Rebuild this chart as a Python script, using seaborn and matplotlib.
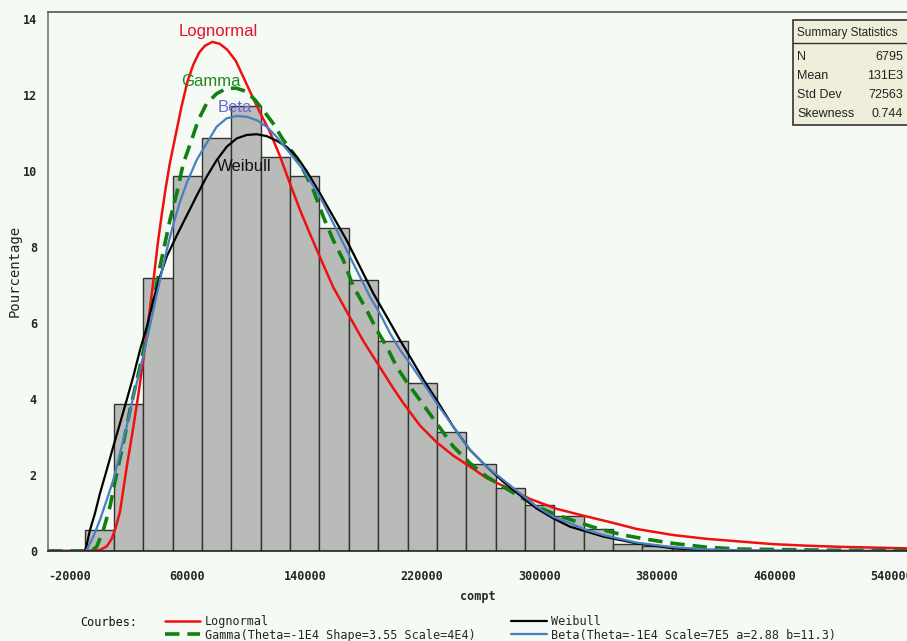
import matplotlib
matplotlib.use("Agg")
import matplotlib.pyplot as plt
from matplotlib.patches import Rectangle
from matplotlib.lines import Line2D
import seaborn as sns

# ---------------- data ----------------
bin_centers = [0, 20000, 40000, 60000, 80000, 100000, 120000, 140000, 160000, 180000,
               200000, 220000, 240000, 260000, 280000, 300000, 320000, 340000, 360000,
               380000, 400000, 420000, 440000, 460000, 480000, 500000, 520000]
bin_percent = [0.55, 3.86, 7.18, 9.87, 10.87, 11.72, 10.38, 9.87, 8.50, 7.13,
               5.53, 4.42, 3.12, 2.28, 1.67, 1.22, 0.93, 0.57, 0.18,
               0.12, 0.08, 0.04, 0.03, 0.02, 0.01, 0.01, 0.01]

logn_x = [-35000, -10000, 0, 5000, 8400, 11000, 14000, 18600, 23100, 26500, 30000, 33400,
          36800, 40000, 42500, 45000, 48000, 52000, 56000, 60000, 64000, 68000, 72000,
          77000, 82000, 87000, 93000, 99000, 105000, 110000, 116000, 123000, 130000,
          137000, 143500, 150400, 159400, 170800, 180000, 191000, 200000, 207000, 218500,
          229900, 241200, 252600, 263900, 279800, 293500, 311600, 329800, 348000, 366200,
          391100, 413900, 436600, 459300, 482000, 504700, 527400, 550400]
logn_y = [0, 0, 0.02, 0.12, 0.32, 0.6, 1.02, 2.2, 3.25, 4.1, 5.05, 6.05,
          7.1, 8.15, 8.85, 9.5, 10.2, 10.95, 11.7, 12.35, 12.8, 13.12, 13.3,
          13.4, 13.35, 13.2, 12.9, 12.4, 11.9, 11.5, 11.05, 10.4, 9.66,
          8.95, 8.35, 7.73, 6.94, 6.15, 5.52, 4.85, 4.3, 3.9, 3.30,
          2.86, 2.51, 2.22, 1.92, 1.63, 1.37, 1.11, 0.93, 0.76, 0.58,
          0.42, 0.32, 0.25, 0.18, 0.14, 0.11, 0.09, 0.07]

gamma_x = [-35000, -10000, -5000, -1800, 2700, 7260, 9500, 11800, 16300, 20900, 27700,
           34500, 41300, 48100, 52700, 57200, 62900, 67400, 73100, 80000, 86800, 93600,
           100400, 106100, 111700, 118500, 125300, 132200, 139000, 145800, 152600,
           159400, 166200, 173100, 182200, 189000, 195800, 202600, 209400, 218500,
           229900, 241200, 252600, 263900, 275300, 286600, 298000, 311600, 325300,
           338900, 357000, 372900, 391100, 413900, 436600, 459300, 500000, 550400]
gamma_y = [0, 0, 0.02, 0.11, 0.55, 1.17, 1.61, 2.04, 2.83, 3.71, 4.85,
           6.08, 7.48, 8.71, 9.41, 10.2, 10.82, 11.34, 11.78, 12.04, 12.18, 12.18,
           12.09, 11.87, 11.6, 11.25, 10.82, 10.47, 10.03, 9.5, 8.8,
           8.18, 7.66, 6.96, 6.34, 5.82, 5.38, 4.85, 4.45, 3.97,
           3.36, 2.75, 2.31, 1.96, 1.69, 1.43, 1.17, 0.95, 0.77,
           0.6, 0.42, 0.31, 0.2, 0.1, 0.05, 0.04, 0.02, 0.01]

beta_x = [-35000, -10000, -8600, -4100, 440, 5000, 9500, 14070, 18600, 23100, 27700,
          32300, 36800, 41300, 45900, 50400, 55000, 59500, 66300, 73100, 80000, 86800,
          93600, 100400, 107200, 114000, 120800, 129900, 139000, 150400, 157200,
          164000, 170800, 177600, 184400, 191200, 198100, 204900, 211700, 218500,
          229900, 241200, 252600, 263900, 275300, 286600, 298000, 309300, 320700,
          332100, 343400, 366200, 391100, 413900, 436600, 480000, 550400]
beta_y = [0, 0, 0.03, 0.38, 0.82, 1.34, 1.87, 2.57, 3.27, 4.06, 4.76,
          5.55, 6.34, 7.13, 7.92, 8.6, 9.2, 9.68, 10.29, 10.73, 11.17, 11.39,
          11.45, 11.43, 11.34, 11.17, 10.9, 10.47, 10.03, 9.32, 8.8,
          8.27, 7.74, 7.22, 6.69, 6.25, 5.73, 5.29, 4.94, 4.55,
          3.89, 3.27, 2.66, 2.22, 1.87, 1.52, 1.17, 0.9, 0.73,
          0.55, 0.42, 0.22, 0.1, 0.04, 0.02, 0.01, 0.0]

weib_x = [-35000, -10000, -9000, -6400, -3000, 440, 5000, 9500, 14070, 18600, 23100,
          27700, 32300, 36800, 41300, 45900, 52700, 57200, 61800, 66300, 73100, 80000,
          86800, 93600, 100400, 107200, 114000, 120800, 127600, 134500, 141300,
          150400, 159400, 168500, 177600, 186700, 195800, 204900, 213900, 220700,
          229900, 241200, 252600, 263900, 275300, 286600, 298000, 309300, 320700,
          332100, 343400, 366200, 391100, 413900, 436600, 550400]
weib_y = [0, 0, 0.1, 0.55, 0.99, 1.52, 2.13, 2.75, 3.36, 3.97, 4.59,
          5.29, 5.90, 6.6, 7.22, 7.75, 8.3, 8.65, 9.0, 9.35, 9.85, 10.29,
          10.64, 10.86, 10.95, 10.97, 10.92, 10.8, 10.64, 10.38, 10.0,
          9.41, 8.8, 8.18, 7.48, 6.78, 6.17, 5.55, 4.97, 4.52,
          3.97, 3.27, 2.66, 2.22, 1.82, 1.47, 1.12, 0.86, 0.64,
          0.51, 0.38, 0.2, 0.07, 0.02, 0.0, 0.0]

x_ticks = list(range(-20000, 540001, 20000))
x_tick_labels = ["-20000", "60000", "140000", "220000", "300000", "380000", "460000", "540000"]
y_ticks = [0, 2, 4, 6, 8, 10, 12, 14]

legend_labels = ["Lognormal", "Gamma(Theta=-1E4 Shape=3.55 Scale=4E4)",
                 "Weibull", "Beta(Theta=-1E4 Scale=7E5 a=2.88 b=11.3)"]
stats_names = ["N", "Mean", "Std Dev", "Skewness"]
stats_values = ["6795", "131E3", "72563", "0.744"]

# ---------------- style ----------------
sns.set_style("white")
BG = "#F5FAF5"
plt.rcParams["font.family"] = ["DejaVu Sans"]

fig = plt.figure(figsize=(9.07, 6.41), dpi=100, facecolor=BG)
ax = fig.add_axes([48 / 907, 1 - 551 / 641, 1 - 48 / 907, (551 - 11.5) / 641])
ax.set_facecolor(BG)

sns.histplot(x=bin_centers, weights=bin_percent, binwidth=20000, binrange=(-10000, 530000),
             color="#B8BBB7", edgecolor="#333333", linewidth=1.0, alpha=1.0, ax=ax)

RED, GREEN, BLACK, BLUE = "#F01010", "#108010", "#000000", "#4A7EC2"
sns.lineplot(x=logn_x, y=logn_y, color=RED, linewidth=1.8, ax=ax, estimator=None)
sns.lineplot(x=gamma_x, y=gamma_y, color=GREEN, linewidth=2.6, ax=ax, estimator=None,
             dashes=False)
ax.lines[-1].set_linestyle((0, (4, 2.2)))
sns.lineplot(x=weib_x, y=weib_y, color=BLACK, linewidth=1.6, ax=ax, estimator=None)
sns.lineplot(x=beta_x, y=beta_y, color=BLUE, linewidth=1.6, ax=ax, estimator=None)

ax.set_xlim(-35000, 550400)
ax.set_ylim(0, 14.2)

lab_font = dict(family="DejaVu Sans Mono", weight="bold", size=8.5)
ax.set_xticks(x_ticks)
ax.set_xticklabels([s if s in x_tick_labels else "" for s in [str(t) for t in x_ticks]],
                   fontdict=lab_font)
ax.set_yticks(y_ticks)
ax.set_yticklabels([str(t) for t in y_ticks], fontdict=lab_font)
ax.tick_params(axis="x", direction="out", length=5, width=1, color="#222222", pad=9)
ax.tick_params(axis="y", direction="out", length=5, width=1, color="#555555", pad=3)

for side in ["left", "bottom", "top"]:
    ax.spines[side].set_visible(True)
    ax.spines[side].set_linewidth(1.2)
ax.spines["left"].set_color("#777777")
ax.spines["bottom"].set_color("#222222")
ax.spines["top"].set_color("#555555")
ax.spines["right"].set_visible(False)

ax.set_xlabel("compt", fontdict=dict(family="DejaVu Sans Mono", weight="bold", size=8.5),
              labelpad=5)
ax.set_ylabel("Pourcentage", fontdict=dict(family="DejaVu Sans Mono", size=10),
              color="#222222")
ax.yaxis.set_label_coords(-0.031, 0.52)

# curve labels
ax.text(80850, 13.68, "Lognormal", color="#E8102A", ha="center", va="center",
        family="Liberation Sans", fontsize=12)
ax.text(76100, 12.37, "Gamma", color="#1E8A1E", ha="center", va="center",
        family="Liberation Sans", fontsize=12)
ax.text(92400, 11.68, "Beta", color="#6A6AD0", ha="center", va="center",
        family="Liberation Sans", fontsize=12)
ax.text(98600, 10.11, "Weibull", color="#111111", ha="center", va="center",
        family="Liberation Sans", fontsize=12)

# summary statistics box
fig.add_artist(Rectangle((793 / 907, 1 - 125 / 641), 0.2, (125 - 20) / 641,
                         transform=fig.transFigure, facecolor="#EEEEDA",
                         edgecolor="#333333", linewidth=1.2, zorder=5))
fig.add_artist(Line2D([793 / 907, 1.0], [1 - 43 / 641, 1 - 43 / 641],
                      transform=fig.transFigure, color="#333333", linewidth=1.0, zorder=6))
fig.text(797 / 907, 1 - 33 / 641, "Summary Statistics", family="Liberation Sans",
         fontsize=8.5, va="center", ha="left", color="#222222", zorder=7)
for i, (n, v) in enumerate(zip(stats_names, stats_values)):
    yy = 1 - (57 + 19 * i) / 641
    fig.text(797 / 907, yy, n, family="Liberation Sans", fontsize=9, va="center",
             ha="left", color="#222222", zorder=7)
    fig.text(903 / 907, yy, v, family="Liberation Sans", fontsize=9, va="center",
             ha="right", color="#222222", zorder=7)

# legend
handles = [ax.lines[0], ax.lines[1], ax.lines[2], ax.lines[3]]
fig.text(80 / 907, 1 - 622 / 641, "Courbes:", family="DejaVu Sans Mono", fontsize=8.5,
         va="center", ha="left", color="#111111")
leg = fig.legend([handles[0], handles[1], handles[2], handles[3]], legend_labels,
                 loc="upper left", bbox_to_anchor=(165 / 907, 1 - 615 / 641), ncol=2,
                 frameon=False, borderpad=0, borderaxespad=0, handlelength=3.0,
                 handletextpad=0.4, columnspacing=3.0, labelspacing=0.05,
                 prop=dict(family="DejaVu Sans Mono", size=8.5))

fig.savefig("out.png", dpi=100, facecolor=BG)
